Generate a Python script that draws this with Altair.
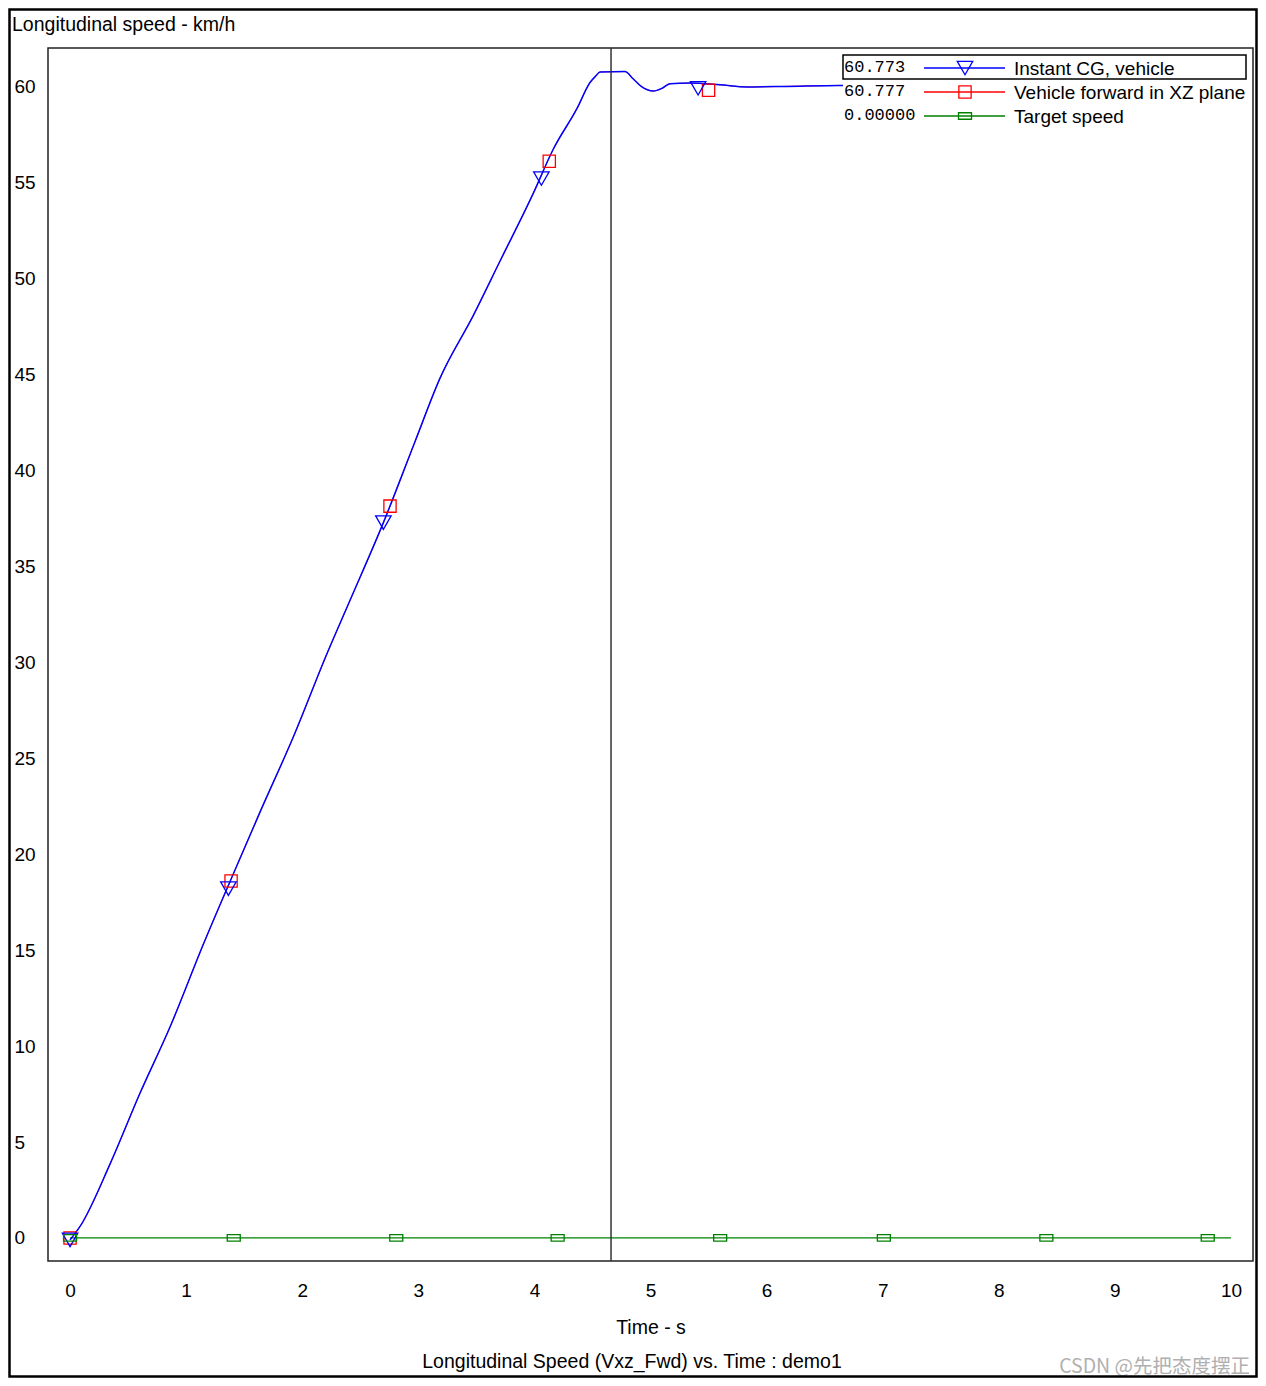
import altair as alt
import pandas as pd

# ---------------- data ----------------
time_s = [0, 0.086, 0.345, 0.603, 0.861, 1.148, 1.407, 1.637, 1.923, 2.21, 2.41,
          2.699, 2.972, 3.187, 3.474, 3.704, 3.988, 4.16, 4.367, 4.479, 4.53,
          4.565, 4.78, 4.85, 4.92, 5.024, 5.10, 5.168, 5.34, 5.6, 5.83, 6.17,
          6.63, 7.5, 8.5, 10.0]
speed_cg = [-0.1, 0.6, 3.86, 7.55, 10.99, 15.3, 18.98, 22.2, 26.1, 30.4, 33.2,
            37.27, 41.5, 44.8, 48.07, 50.9, 54.4, 56.7, 58.85, 60.2, 60.55,
            60.75, 60.77, 60.4, 60.0, 59.76, 59.9, 60.14, 60.17, 60.08, 59.97,
            60.0, 60.05, 60.0, 60.0, 60.0]
speed_fwd = [-0.1, 0.6, 3.86, 7.55, 10.99, 15.3, 18.98, 22.2, 26.1, 30.4, 33.2,
             37.27, 41.5, 44.8, 48.07, 50.9, 54.4, 56.7, 58.85, 60.2, 60.55,
             60.75, 60.77, 60.4, 60.0, 59.76, 59.9, 60.14, 60.17, 60.08, 59.97,
             60.0, 60.05, 60.0, 60.0, 60.0]
target_time = [0, 10]
target_speed = [0, 0]

cg_marker_time = [0, 1.364, 2.699, 4.06, 5.41]
cg_marker_speed = [-0.1, 18.2, 37.27, 55.2, 59.9]
fwd_marker_time = [0, 1.387, 2.756, 4.128, 5.50]
fwd_marker_speed = [0, 18.6, 38.13, 56.1, 59.8]
target_marker_time = [0, 1.41, 2.81, 4.20, 5.60, 7.01, 8.41, 9.80]
target_marker_speed = [0, 0, 0, 0, 0, 0, 0, 0]

cursor_time = [4.66]

x_ticks = [0, 1, 2, 3, 4, 5, 6, 7, 8, 9, 10]
y_ticks = [0, 5, 10, 15, 20, 25, 30, 35, 40, 45, 50, 55, 60]

legend_values = ["60.773", "60.777", "0.00000"]
legend_labels = ["Instant CG, vehicle", "Vehicle forward in XZ plane", "Target speed"]

chart_title = "Longitudinal speed - km/h"
x_title = "Time - s"
caption = "Longitudinal Speed (Vxz_Fwd) vs. Time : demo1"
watermark = "CSDN @先把态度摆正"

# ---------------- styling ----------------
FONT = "Liberation Sans"
MONO = "Liberation Mono"
W, H = 1205, 1213
PAD = {"left": 40, "top": 40, "right": 5, "bottom": 117}
BLUE, RED, GREEN = "#0000ff", "#ff0000", "#008000"
GREEN_SHAPE = "M-1,-0.5L1,-0.5L1,0.5L-1,0.5Z"

x_scale = alt.Scale(domain=[-0.19, 10.19], nice=False, zero=False)
y_scale = alt.Scale(domain=[-1.2, 62], nice=False, zero=False)

x_axis = alt.Axis(values=x_ticks, title=x_title, grid=False, ticks=False, tickSize=0,
                  domain=False, labelPadding=29, labelBaseline="middle",
                  labelFontSize=19, labelFont=FONT, labelColor="#000",
                  labelFlush=False, labelOverlap=False,
                  titleFont=FONT, titleFontSize=19.5, titleFontWeight="normal",
                  titleColor="#000", titleY=66, titleBaseline="middle")
y_axis = alt.Axis(values=y_ticks, title=None, grid=False, ticks=False, tickSize=0,
                  domain=False, labelPadding=34, labelAlign="left",
                  labelBaseline="middle", labelFontSize=19, labelFont=FONT,
                  labelColor="#000", labelFlush=False, labelOverlap=False)

X = alt.X("t:Q", scale=x_scale, axis=x_axis)
Y = alt.Y("v:Q", scale=y_scale, axis=y_axis)


def series_df(t, v):
    return pd.DataFrame({"t": t, "v": v})


one = pd.DataFrame({"k": [0]})

layers = []

# series lines
layers.append(alt.Chart(series_df(target_time, target_speed)).mark_line(
    color=GREEN, strokeWidth=1.3).encode(x=X, y=Y))
layers.append(alt.Chart(series_df(time_s, speed_fwd)).mark_line(
    color=RED, strokeWidth=0.8, interpolate="monotone").encode(x=X, y=Y))
layers.append(alt.Chart(series_df(time_s, speed_cg)).mark_line(
    color=BLUE, strokeWidth=1.5, interpolate="monotone").encode(x=X, y=Y))

# markers
layers.append(alt.Chart(series_df(fwd_marker_time, fwd_marker_speed)).mark_point(
    shape="square", filled=False, color=RED, size=150, strokeWidth=1.3,
    opacity=1).encode(x=X, y=Y))
layers.append(alt.Chart(series_df(cg_marker_time, cg_marker_speed)).mark_point(
    shape="triangle-down", filled=False, color=BLUE, size=240, strokeWidth=1.3,
    opacity=1).encode(x=X, y=Y))
layers.append(alt.Chart(series_df(target_marker_time, target_marker_speed)).mark_point(
    shape=GREEN_SHAPE, filled=False, color=GREEN, size=169, strokeWidth=1.3,
    opacity=1).encode(x=X, y=Y))

# cursor line
layers.append(alt.Chart(pd.DataFrame({"t": cursor_time})).mark_rule(
    color="#333333", strokeWidth=1.5).encode(
    x=alt.X("t:Q", scale=x_scale, axis=x_axis), y=alt.value(0), y2=alt.value(H)))

# legend background + highlight box
layers.append(alt.Chart(one).mark_rect(fill="white", strokeOpacity=0).encode(
    x=alt.value(795), x2=alt.value(1202), y=alt.value(4), y2=alt.value(80)))
layers.append(alt.Chart(one).mark_rect(fillOpacity=0, stroke="#000", strokeWidth=1.5).encode(
    x=alt.value(795), x2=alt.value(1198), y=alt.value(7), y2=alt.value(31)))

legend_rows = [
    (BLUE, "triangle-down", 240, 20),
    (RED, "square", 150, 44),
    (GREEN, GREEN_SHAPE, 169, 68),
]
for i, (col, shp, sz, yy) in enumerate(legend_rows):
    layers.append(alt.Chart(one).mark_text(
        text=legend_values[i], align="left", baseline="middle", font=MONO,
        fontSize=17, color="#000").encode(x=alt.value(796), y=alt.value(yy - 1)))
    layers.append(alt.Chart(one).mark_rule(color=col, strokeWidth=1.3).encode(
        x=alt.value(876), x2=alt.value(957), y=alt.value(yy)))
    layers.append(alt.Chart(one).mark_point(
        shape=shp, filled=False, color=col, size=sz, strokeWidth=1.3,
        opacity=1).encode(x=alt.value(917), y=alt.value(yy)))
    layers.append(alt.Chart(one).mark_text(
        text=legend_labels[i], align="left", baseline="middle", font=FONT,
        fontSize=19, color="#000").encode(x=alt.value(966), y=alt.value(yy + 1)))

# texts
layers.append(alt.Chart(one).mark_text(
    text=chart_title, align="left", baseline="middle", font=FONT, fontSize=19.5,
    color="#000").encode(x=alt.value(-36), y=alt.value(-23)))
layers.append(alt.Chart(one).mark_text(
    text=caption, align="center", baseline="middle", font=FONT, fontSize=19.5,
    color="#000").encode(x=alt.value(584), y=alt.value(1314)))
layers.append(alt.Chart(one).mark_text(
    text=watermark, align="right", baseline="middle", font="Noto Sans CJK SC",
    fontSize=19.5, color="#b0b0b0").encode(x=alt.value(1202), y=alt.value(1319)))

# outer frame
layers.append(alt.Chart(one).mark_rect(fillOpacity=0, stroke="#000", strokeWidth=2.5).encode(
    x=alt.value(-38.5), x2=alt.value(W + PAD["right"] - 1.5),
    y=alt.value(-38.5), y2=alt.value(H + PAD["bottom"] - 1.5)))

chart = alt.layer(*layers).properties(
    width=W, height=H,
    autosize=alt.AutoSizeParams(type="none"),
    padding=PAD,
    background="white",
).configure_view(stroke="#222222", strokeWidth=1.5)

chart.save("out.html", embed_options={"renderer": "svg", "actions": False})
